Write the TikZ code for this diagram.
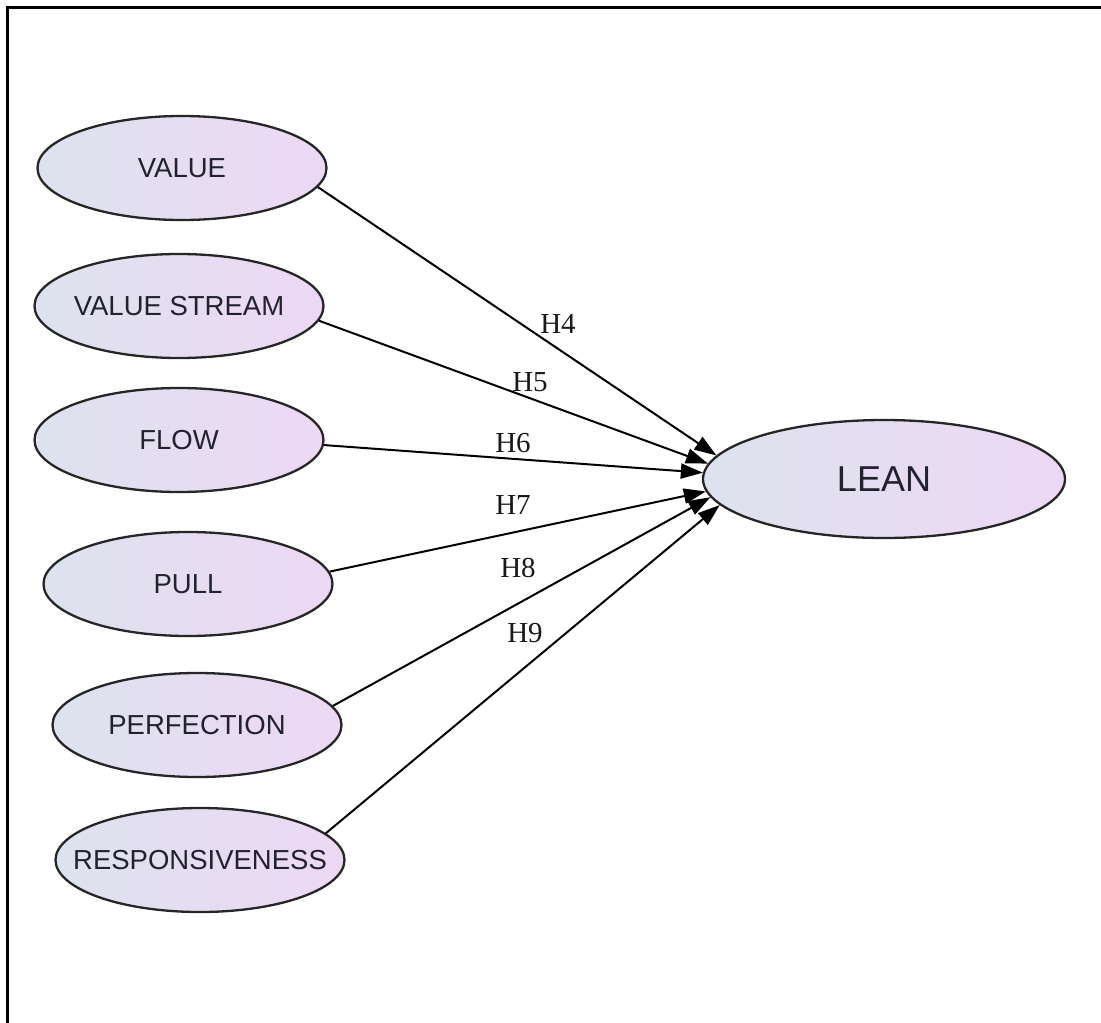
\documentclass[tikz,border=0pt]{standalone}
\usepackage{fontspec}
\setmainfont{Liberation Serif}
\setsansfont{Liberation Sans}
\usetikzlibrary{shapes.geometric,arrows.meta}
\definecolor{fillL}{HTML}{DDE2EE}
\definecolor{fillR}{HTML}{EDD8F4}
\definecolor{inktext}{HTML}{22222E}
\begin{document}
\begin{tikzpicture}[x=1pt,y=-1pt,
  construct/.style={ellipse, draw=black!85, line width=2.3pt, inner sep=0pt,
    left color=fillL, right color=fillR,
    minimum width=289pt, minimum height=104pt, text=inktext,
    font=\sffamily\fontsize{27.5}{30}\selectfont},
  target/.style={construct, minimum width=362pt, minimum height=118pt,
    font=\sffamily\fontsize{36}{40}\selectfont},
  link/.style={line width=2pt, -{Triangle[length=22pt,width=15pt]}},
  hyp/.style={font=\fontsize{29}{31}\selectfont, inner sep=0pt, text=black!90}]
\useasboundingbox (0,0) rectangle (1101,1023);
% frame
\draw[line width=3pt] (7,1023) -- (7,7) -- (1101,7);

% constructs
\node[construct] (value)  at (182,168) {\makebox[0pt]{VALUE}};
\node[construct] (stream) at (179,306) {\makebox[0pt]{VALUE STREAM}};
\node[construct] (flow)   at (179,440) {\makebox[0pt]{FLOW}};
\node[construct] (pull)   at (188,584) {\makebox[0pt]{PULL}};
\node[construct] (perf)   at (197,725) {\makebox[0pt]{PERFECTION}};
\node[construct] (resp)   at (200,860) {\makebox[0pt]{RESPONSIVENESS}};
\node[target]    (lean)   at (884,479) {\makebox[0pt]{LEAN}};

% hypothesised paths
\draw[link] (value.-8)  -- (lean.172.7);
\draw[link] (stream.-6) -- (lean.175.6);
\draw[link] (flow.-2)   -- (lean.178.7);
\draw[link] (pull.5)    -- (lean.184);
\draw[link] (perf.8)    -- (lean.186.8);
\draw[link] (resp.12)   -- (lean.189.9);

% path labels
\node[hyp] (h4) at (558,324) {H4};
\node[hyp] (h5) at (530,382) {H5};
\node[hyp] (h6) at (513,443) {H6};
\node[hyp] (h7) at (513,505) {H7};
\node[hyp] (h8) at (518,568) {H8};
\node[hyp] (h9) at (525,633) {H9};
\end{tikzpicture}
\end{document}
